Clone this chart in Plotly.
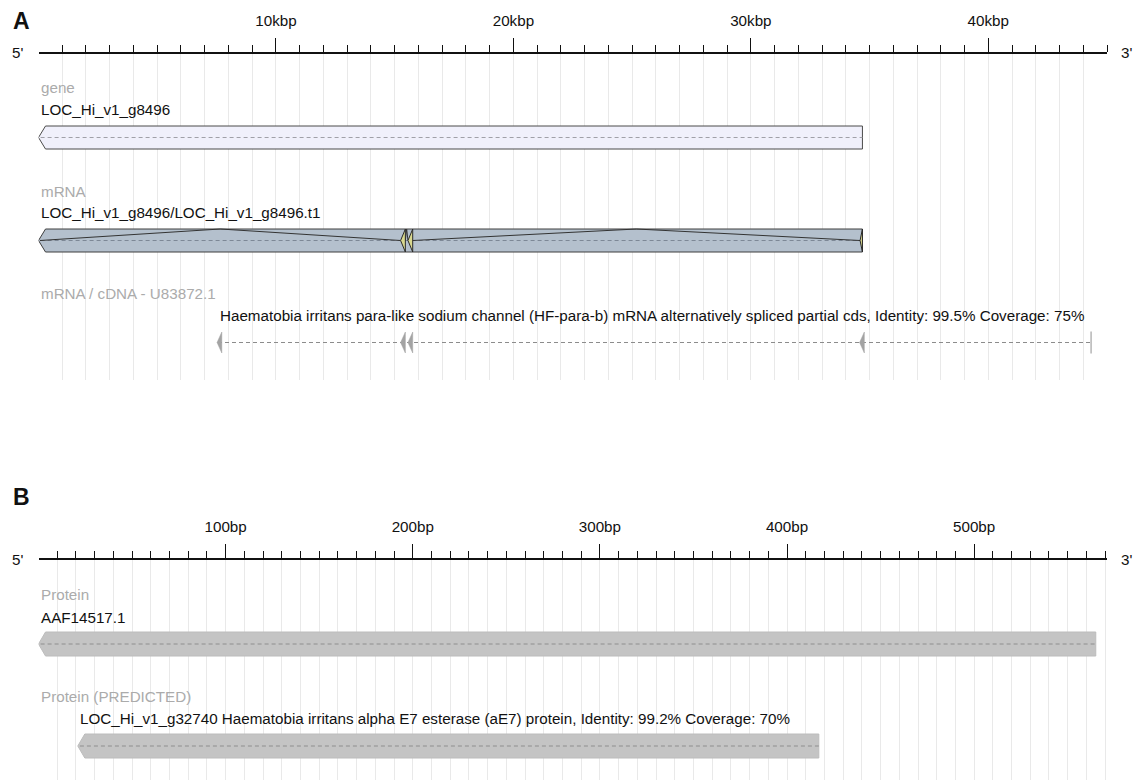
import plotly.graph_objects as go

# ---------------- DATA ----------------
# Panel A (positions in bp)
A_range = [0, 45000]
A_major_ticks = [10000, 20000, 30000, 40000]
A_major_labels = ["10kbp", "20kbp", "30kbp", "40kbp"]
A_minor_step = 1000

gene_name = "LOC_Hi_v1_g8496"
gene_span = [0, 34700]

mrna_name = "LOC_Hi_v1_g8496/LOC_Hi_v1_g8496.t1"
mrna_span = [0, 34700]
mrna_exons = [[0, 60], [15250, 15450], [15560, 15760], [34600, 34700]]

cdna_label = "mRNA / cDNA - U83872.1"
cdna_desc = ("Haematobia irritans para-like sodium channel (HF-para-b) mRNA alternatively "
             "spliced partial cds, Identity: 99.5% Coverage: 75%")
cdna_span = [7560, 44330]
cdna_blocks = [[7520, 7720], [15250, 15450], [15560, 15760], [34580, 34780]]

# Panel B (positions in bp)
B_range = [0, 571]
B_major_ticks = [100, 200, 300, 400, 500]
B_major_labels = ["100bp", "200bp", "300bp", "400bp", "500bp"]
B_minor_step = 10

prot1_name = "AAF14517.1"
prot1_span = [0, 565]
prot2_name = ("LOC_Hi_v1_g32740 Haematobia irritans alpha E7 esterase (aE7) protein, "
              "Identity: 99.2% Coverage: 70%")
prot2_span = [21, 417]

# ---------------- LAYOUT CONSTANTS ----------------
OFF = 0
W, H = 1135, 780
X0, X1 = 38.5, 1107.0        # reference pixel positions
A_TOP, A_BOT = 54, 380
B_TOP, B_BOT = 560, 780
FONT = "Liberation Sans, Arial, Helvetica, sans-serif"
FS = 15.2
GRAY_TXT = "#ababab"
GRID = "#e9e9e9"
ARROW_PX = 7
DASH = "4px,3px"


def px_x(X):
    return (X - OFF) / W


def px_y(Y):
    return 1 - (Y - OFF) / H


pxA = (X1 - X0) / (A_range[1] - A_range[0])
pxB = (X1 - X0) / (B_range[1] - B_range[0])

fig = go.Figure()


def arrow_poly(s, e, yc, h, arrow_bp):
    w = min(arrow_bp, e - s)
    xs = [s, s + w, e, e, s + w, s]
    ys = [yc, yc - h / 2, yc - h / 2, yc + h / 2, yc + h / 2, yc]
    return xs, ys


def add_poly(xs, ys, fill, line, lw, xa, ya):
    fig.add_trace(go.Scatter(x=xs, y=ys, mode="lines", fill="toself", fillcolor=fill,
                             line=dict(color=line, width=lw), hoverinfo="skip",
                             showlegend=False, xaxis=xa, yaxis=ya))


def add_line(xs, ys, color, lw, dash, xa, ya):
    fig.add_trace(go.Scatter(x=xs, y=ys, mode="lines", line=dict(color=color, width=lw, dash=dash),
                             hoverinfo="skip", showlegend=False, xaxis=xa, yaxis=ya))


def add_text(x, y, text, color, xref, yref, size=FS):
    fig.add_annotation(x=x, y=y, xref=xref, yref=yref, text=text,
                       showarrow=False, xanchor="left", yanchor="middle",
                       font=dict(family=FONT, size=size, color=color))


# ---------------- PANEL A ----------------
arrowA = ARROW_PX / pxA
# gene
yc = 137.5
xs, ys = arrow_poly(gene_span[0], gene_span[1], yc, 23, arrowA)
add_poly(xs, ys, "#f0f0fb", "#4a4a4a", 1, "x", "y")
add_line([gene_span[0] + arrowA * 0.3, gene_span[1]], [yc, yc], "#a0a0a8", 1, DASH, "x", "y")

# mRNA
yc = 240.5
xs, ys = arrow_poly(mrna_span[0], mrna_span[1], yc, 23, arrowA)
add_poly(xs, ys, "#b4c0cd", "#3e3e3e", 1, "x", "y")
add_line([mrna_span[0] + arrowA * 0.3, mrna_span[1]], [yc, yc], "#7d8896", 1, DASH, "x", "y")
for i in range(len(mrna_exons) - 1):
    s = mrna_exons[i][1]
    e = mrna_exons[i + 1][0]
    add_line([s, (s + e) / 2, e], [yc, yc - 11.5, yc], "#333333", 1, "solid", "x", "y")
for s, e in mrna_exons[1:]:
    xs, ys = arrow_poly(s, e, yc, 23, e - s)
    add_poly(xs, ys, "#d9d88e", "#2a2a2a", 1, "x", "y")

# cDNA alignment
yc = 342.5
add_line(cdna_span, [yc, yc], "#8c8c8c", 1, DASH, "x", "y")
for s, e in cdna_blocks:
    xs, ys = arrow_poly(s, e, yc, 21, e - s)
    add_poly(xs, ys, "#a3a3a3", "#a3a3a3", 0.5, "x", "y")
add_line([cdna_span[1], cdna_span[1]], [yc - 11, yc + 11], "#b5b5b5", 1.5, "solid", "x", "y")

add_text(gene_span[0], 88, "gene", GRAY_TXT, "x", "y")
add_text(gene_span[0], 110, gene_name, "#111111", "x", "y")
add_text(mrna_span[0], 192, "mRNA", GRAY_TXT, "x", "y")
add_text(mrna_span[0], 213, mrna_name, "#111111", "x", "y")
add_text(0, 293, cdna_label, GRAY_TXT, "x", "y")
add_text(cdna_span[0], 315, cdna_desc, "#111111", "x", "y")

# ---------------- PANEL B ----------------
arrowB = ARROW_PX / pxB
yc = 644
xs, ys = arrow_poly(prot1_span[0], prot1_span[1], yc, 24, arrowB)
add_poly(xs, ys, "#c4c4c4", "#bcbcbc", 1, "x2", "y2")
add_line([prot1_span[0] + arrowB * 0.3, prot1_span[1]], [yc, yc], "#8e8e8e", 1, DASH, "x2", "y2")

yc = 746
xs, ys = arrow_poly(prot2_span[0], prot2_span[1], yc, 24, arrowB)
add_poly(xs, ys, "#c4c4c4", "#bcbcbc", 1, "x2", "y2")
add_line([prot2_span[0] + arrowB * 0.3, prot2_span[1]], [yc, yc], "#8e8e8e", 1, DASH, "x2", "y2")

add_text(prot1_span[0], 594, "Protein", GRAY_TXT, "x2", "y2")
add_text(prot1_span[0], 617, prot1_name, "#111111", "x2", "y2")
add_text(0, 696, "Protein (PREDICTED)", GRAY_TXT, "x2", "y2")
add_text(prot2_span[0], 718, prot2_name, "#111111", "x2", "y2")


# panel letters and strand ends (paper coords)
def paper_text(xpx, ypx, text, size, bold=False):
    fig.add_annotation(x=px_x(xpx), y=px_y(ypx), xref="paper", yref="paper",
                       text=("<b>%s</b>" % text) if bold else text, showarrow=False,
                       xanchor="left", yanchor="middle",
                       font=dict(family=FONT, size=size, color="#111111"))


paper_text(11, 21, "A", 23, bold=True)
paper_text(11, 497, "B", 23, bold=True)
paper_text(10, 53, "5'", FS)
paper_text(1119, 53, "3'", FS)
paper_text(10, 559, "5'", FS)
paper_text(1119, 559, "3'", FS)


def minor_vals(rng, step, majors):
    v = []
    k = rng[0] + step
    while k <= rng[1] + 1e-9:
        if all(abs(k - m) > 1e-9 for m in majors):
            v.append(k)
        k += step
    return v


def ruler_axis(rng, majors, labels, step):
    return dict(
        range=rng, domain=[px_x(X0), px_x(X1)], side="top",
        showline=True, linecolor="#111111", linewidth=1.5,
        ticks="outside", ticklen=14, tickwidth=1.3, tickcolor="#111111",
        tickmode="array", tickvals=majors, ticktext=labels,
        tickfont=dict(family=FONT, size=FS, color="#111111"),
        ticklabelstandoff=6,
        showgrid=True, gridcolor=GRID, gridwidth=1,
        zeroline=False, fixedrange=True,
        minor=dict(tickmode="array", tickvals=minor_vals(rng, step, majors), ticks="outside",
                   ticklen=7, tickwidth=1.3, tickcolor="#111111",
                   showgrid=True, gridcolor=GRID, gridwidth=1),
    )


xa = ruler_axis(A_range, A_major_ticks, A_major_labels, A_minor_step)
xa["anchor"] = "y"
xb = ruler_axis(B_range, B_major_ticks, B_major_labels, B_minor_step)
xb["anchor"] = "y2"

fig.update_layout(
    width=W, height=H, margin=dict(l=0, r=0, t=0, b=0),
    paper_bgcolor="white", plot_bgcolor="white",
    showlegend=False,
    xaxis=xa, xaxis2=xb,
    yaxis=dict(domain=[px_y(A_BOT), px_y(A_TOP)], range=[A_BOT, A_TOP], visible=False,
               fixedrange=True),
    yaxis2=dict(domain=[0, px_y(B_TOP)], range=[B_BOT, B_TOP], visible=False, fixedrange=True),
)

fig.write_html("out.html", config={"displayModeBar": False},
               post_script="document.body.style.margin='0px';document.body.style.overflow='hidden';")
